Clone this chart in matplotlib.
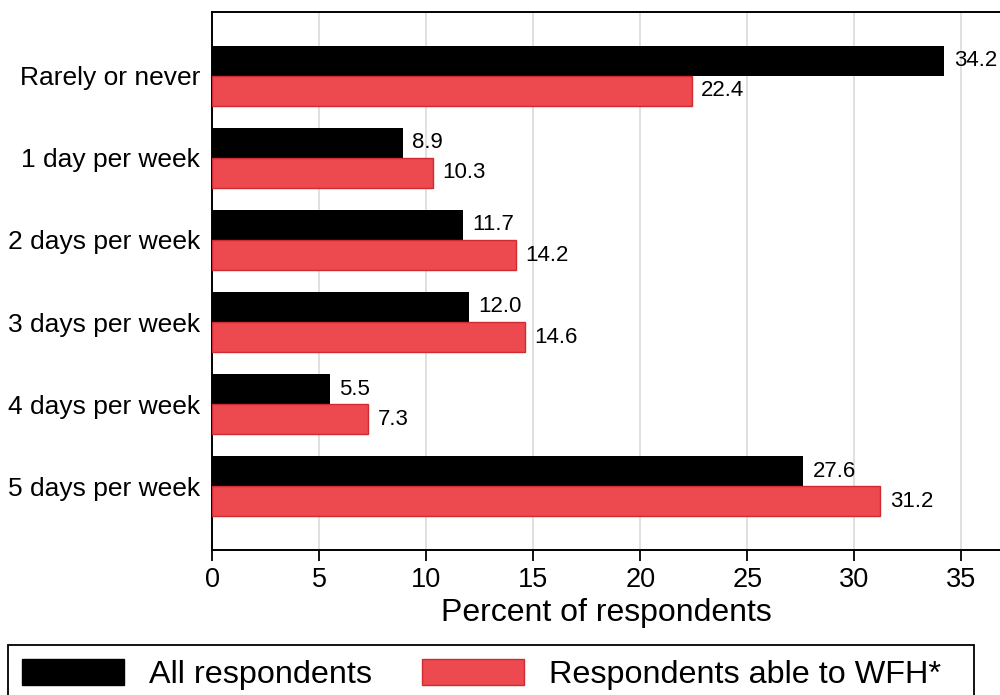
import matplotlib
matplotlib.use("Agg")
import matplotlib.pyplot as plt
import numpy as np
from matplotlib.patches import Patch, Rectangle

categories = ["Rarely or never", "1 day per week", "2 days per week",
              "3 days per week", "4 days per week", "5 days per week"]
all_resp = [34.2, 8.9, 11.7, 12.0, 5.5, 27.6]
wfh_resp = [22.4, 10.3, 14.2, 14.6, 7.3, 31.2]
series_names = ["All respondents", "Respondents able to WFH*"]
xticks = [0, 5, 10, 15, 20, 25, 30, 35]

black = "#000000"
red = "#EC4A4E"
red_edge = "#D02B30"

plt.rcParams['font.family'] = ['Liberation Sans', 'DejaVu Sans']

W, H = 1000, 695
fig = plt.figure(figsize=(W/100, H/100), dpi=100)
ax = fig.add_axes([212/W, 1-550/H, 1-212/W, (550-12)/H])

y = np.arange(len(categories))
h = 0.366
ax.barh(y - h/2, all_resp, height=h, color=black, zorder=3)
ax.barh(y + h/2, wfh_resp, height=h, color=red, edgecolor=red_edge, linewidth=1.0, zorder=3)

for yi, v in zip(y, all_resp):
    ax.text(v + 0.45, yi - h/2, f"{v:.1f}", va="center", ha="left", fontsize=16)
for yi, v in zip(y, wfh_resp):
    ax.text(v + 0.45, yi + h/2, f"{v:.1f}", va="center", ha="left", fontsize=16)

ax.set_xlim(0, 36.8)
ax.set_ylim(5.78, -0.78)
ax.set_yticks(y)
ax.set_yticklabels(categories, fontsize=19)
ax.tick_params(axis='y', length=0, pad=8.5)
ax.set_xticks(xticks)
ax.set_xticklabels([str(t) for t in xticks], fontsize=19.5)
ax.tick_params(axis='x', length=8, width=1.3, pad=4, direction='out')
ax.grid(axis='x', color="#DDDDDD", linewidth=1.3, zorder=0)
ax.set_xlabel("Percent of respondents", fontsize=23, labelpad=4)
ax.spines['right'].set_visible(False)
for s in ['top', 'left', 'bottom']:
    ax.spines[s].set_linewidth(1.4)

# legend frame
fig.patches.append(Rectangle((8/W, -0.05), (974-8)/W, 0.05 + (H-645)/H,
                             transform=fig.transFigure, facecolor="white",
                             edgecolor="black", linewidth=1.3, zorder=0))

handles = [Patch(facecolor=black, edgecolor=black), Patch(facecolor=red, edgecolor=red_edge)]
leg = fig.legend(handles, series_names, loc="upper left", ncol=2,
                 bbox_to_anchor=(8/W, 1-645/H),
                 frameon=False, fontsize=23.3,
                 handlelength=3.15, handleheight=0.88, handletextpad=0.78,
                 columnspacing=1.55, borderaxespad=0, borderpad=0.42)

fig.savefig("out.png", dpi=100)
